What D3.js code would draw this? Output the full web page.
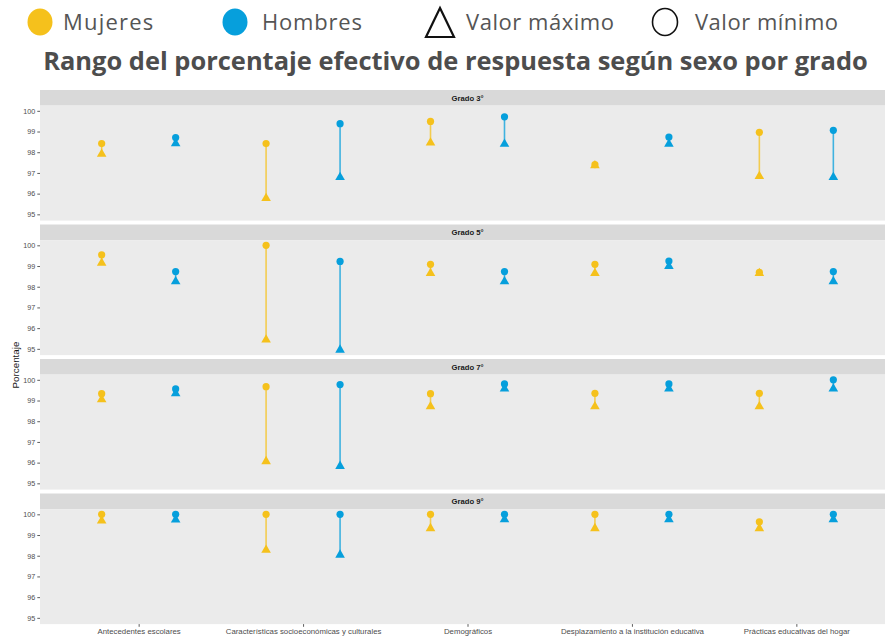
<!DOCTYPE html>
<html lang="es">
<head>
<meta charset="utf-8">
<script src="https://cdn.jsdelivr.net/npm/d3@7"></script>
<style>
  html, body { margin: 0; padding: 0; background: #ffffff; }
  svg { display: block; }
</style>
</head>
<body>
<svg id="chart" width="885" height="636"></svg>
<script>
// Factores evaluados (eje x) y grados (facetas)
const categorias = [
  "Antecedentes escolares",
  "Características socioeconómicas y culturales",
  "Demográficos",
  "Desplazamiento a la institución educativa",
  "Prácticas educativas del hogar"
];
const grados = ["Grado 3°", "Grado 5°", "Grado 7°", "Grado 9°"];
const sexos = ["Mujeres", "Hombres"];

// Porcentaje efectivo de respuesta: una fila por grado, una columna por factor
// Valor máximo (triángulo)
const valorMaximoMujeres = [
  [97.91, 95.78, 98.46, 97.36, 96.84],
  [99.15, 95.44, 98.65, 98.65, 98.65],
  [99.05, 96.06, 98.71, 98.71, 98.71],
  [99.69, 98.28, 99.32, 99.32, 99.32]
];
const valorMaximoHombres = [
  [98.42, 96.79, 98.40, 98.40, 96.79],
  [98.25, 94.95, 98.25, 98.99, 98.25],
  [99.34, 95.83, 99.57, 99.57, 99.57],
  [99.74, 98.04, 99.75, 99.75, 99.75]
];
// Valor mínimo (círculo)
const valorMinimoMujeres = [
  [98.42, 98.42, 99.49, 97.40, 98.96],
  [99.54, 100.00, 99.08, 99.08, 98.70],
  [99.33, 99.67, 99.33, 99.35, 99.35],
  [100.00, 100.00, 100.00, 100.00, 99.64]
];
const valorMinimoHombres = [
  [98.71, 99.38, 99.71, 98.73, 99.06],
  [98.73, 99.22, 98.73, 99.24, 98.73],
  [99.56, 99.77, 99.80, 99.80, 100.00],
  [100.00, 100.00, 100.00, 100.00, 100.00]
];
const yTicks = [95, 96, 97, 98, 99, 100];

const colores = { Mujeres: "#F5C11C", Hombres: "#069FDC" };

// Filas en formato largo
const filas = [];
grados.forEach((g, gi) => {
  categorias.forEach((c, ci) => {
    filas.push({ grado: g, categoria: c, sexo: "Mujeres",
      max: valorMaximoMujeres[gi][ci], min: valorMinimoMujeres[gi][ci] });
    filas.push({ grado: g, categoria: c, sexo: "Hombres",
      max: valorMaximoHombres[gi][ci], min: valorMinimoHombres[gi][ci] });
  });
});

const svg = d3.select("#chart");

// ---------- Leyenda ----------
const leyenda = svg.append("g").attr("class", "leyenda");
const legFont = "'Open Sans', 'Noto Sans', sans-serif";
const legColor = "#555555";
const legItems = [
  { tipo: "punto", color: colores.Mujeres, cx: 40, texto: "Mujeres", tx: 63, ancho: 116 },
  { tipo: "punto", color: colores.Hombres, cx: 235, texto: "Hombres", tx: 262, ancho: 100 },
  { tipo: "triangulo", cx: 440, texto: "Valor máximo", tx: 466, ancho: 148 },
  { tipo: "circulo", cx: 665, texto: "Valor mínimo", tx: 695, ancho: 143 }
];
legItems.forEach(it => {
  if (it.tipo === "punto") {
    leyenda.append("ellipse").attr("cx", it.cx).attr("cy", 22)
      .attr("rx", 12.5).attr("ry", 13.5).attr("fill", it.color);
  } else if (it.tipo === "triangulo") {
    leyenda.append("path")
      .attr("d", `M${it.cx},8 L${it.cx + 14},37 L${it.cx - 14},37 Z`)
      .attr("fill", "none").attr("stroke", "#111").attr("stroke-width", 2.2)
      .attr("stroke-linejoin", "miter");
  } else {
    leyenda.append("ellipse").attr("cx", it.cx).attr("cy", 22)
      .attr("rx", 12.5).attr("ry", 13.5).attr("fill", "none")
      .attr("stroke", "#111").attr("stroke-width", 1.6);
  }
  const t = leyenda.append("text").attr("class", "leg-txt")
    .attr("x", it.tx).attr("y", 30)
    .attr("font-family", legFont).attr("font-size", 22)
    .attr("fill", legColor)
    .text(it.texto);
  // espaciado moderado hacia el ancho deseado
  const natural = t.node().getComputedTextLength();
  const extra = Math.min((it.ancho - natural) / (it.texto.length - 1), 1.2);
  if (extra > 0) t.attr("letter-spacing", extra);
});

// ---------- Título ----------
const titulo = svg.append("text")
  .attr("x", 455.5).attr("y", 70)
  .attr("text-anchor", "middle")
  .attr("font-family", legFont).attr("font-weight", 700)
  .attr("font-size", 24).attr("fill", "#4D4D4D")
  .text("Rango del porcentaje efectivo de respuesta según sexo por grado");
(function () {
  const w = titulo.node().getComputedTextLength();
  titulo.attr("font-size", 24 * 825 / w);
})();

// ---------- Facetas ----------
const plotLeft = 40, plotRight = 895;
const stripTop0 = 90, pitch = 134.5, stripH = 15.6, panelH = 115;
const axisFont = "'Liberation Sans', Arial, sans-serif";

const x = d3.scalePoint().domain(categorias).range([plotLeft, plotRight]).padding(0.6);
const dodge = x.step() * 0.225;
const xPos = d => x(d.categoria) + (d.sexo === "Mujeres" ? -dodge : dodge);

const todos = filas.flatMap(d => [d.max, d.min]);
const yMin = d3.min(todos), yMax = d3.max(todos);
const pad = (yMax - yMin) * 0.05;

const tri = d3.symbol().type(d3.symbolTriangle).size(40);

grados.forEach((g, gi) => {
  const sTop = stripTop0 + gi * pitch;
  const pTop = sTop + stripH;
  const pBot = pTop + panelH;
  const y = d3.scaleLinear().domain([yMin - pad, yMax + pad]).range([pBot, pTop]);

  const faceta = svg.append("g").attr("class", "faceta");
  // franja
  faceta.append("rect").attr("x", plotLeft).attr("y", sTop)
    .attr("width", plotRight - plotLeft).attr("height", stripH).attr("fill", "#D9D9D9");
  faceta.append("text").attr("x", (plotLeft + plotRight) / 2).attr("y", sTop + stripH / 2 + 2.7)
    .attr("text-anchor", "middle").attr("font-family", axisFont)
    .attr("font-weight", 700).attr("font-size", 7.7).attr("fill", "#1A1A1A").text(g);
  // panel
  faceta.append("rect").attr("x", plotLeft).attr("y", pTop)
    .attr("width", plotRight - plotLeft).attr("height", panelH).attr("fill", "#EBEBEB");

  // eje y
  const ay = faceta.append("g").attr("transform", `translate(${plotLeft},0)`)
    .call(d3.axisLeft(y).tickValues(yTicks).tickSize(2.7).tickPadding(2).tickFormat(d3.format("d")));
  ay.select(".domain").remove();
  ay.selectAll(".tick line").attr("stroke", "#333").attr("stroke-width", 0.8);
  ay.selectAll(".tick text").attr("font-family", axisFont).attr("font-size", 7.2)
    .attr("fill", "#4D4D4D");

  const datos = filas.filter(d => d.grado === g);
  // segmentos
  faceta.selectAll("line.rango").data(datos).join("line").attr("class", "rango")
    .attr("x1", xPos).attr("x2", xPos)
    .attr("y1", d => y(d.min)).attr("y2", d => y(d.max))
    .attr("stroke", d => colores[d.sexo]).attr("stroke-width", 1.6).attr("stroke-opacity", 0.75);
  // círculos (valor mínimo)
  faceta.selectAll("circle.min").data(datos).join("circle").attr("class", "min")
    .attr("cx", xPos).attr("cy", d => y(d.min)).attr("r", 3.6)
    .attr("fill", d => colores[d.sexo]);
  // triángulos (valor máximo)
  faceta.selectAll("path.max").data(datos).join("path").attr("class", "max")
    .attr("d", tri)
    .attr("transform", d => `translate(${xPos(d)},${y(d.max)})`)
    .attr("fill", d => colores[d.sexo]);

  // eje x solo en la última faceta
  if (gi === grados.length - 1) {
    const ax = faceta.append("g").attr("transform", `translate(0,${pBot})`)
      .call(d3.axisBottom(x).tickSize(2.7).tickPadding(1.5));
    ax.select(".domain").remove();
    ax.selectAll(".tick line").attr("stroke", "#333").attr("stroke-width", 0.8);
    ax.selectAll(".tick text").attr("font-family", axisFont).attr("font-size", 7.8)
      .attr("fill", "#4D4D4D");
  }
});

// Título del eje y
svg.append("text")
  .attr("transform", "translate(18.5,365) rotate(-90)")
  .attr("text-anchor", "middle").attr("font-family", axisFont)
  .attr("font-size", 9.8).attr("fill", "#1A1A1A").text("Porcentaje");
</script>
</body>
</html>
